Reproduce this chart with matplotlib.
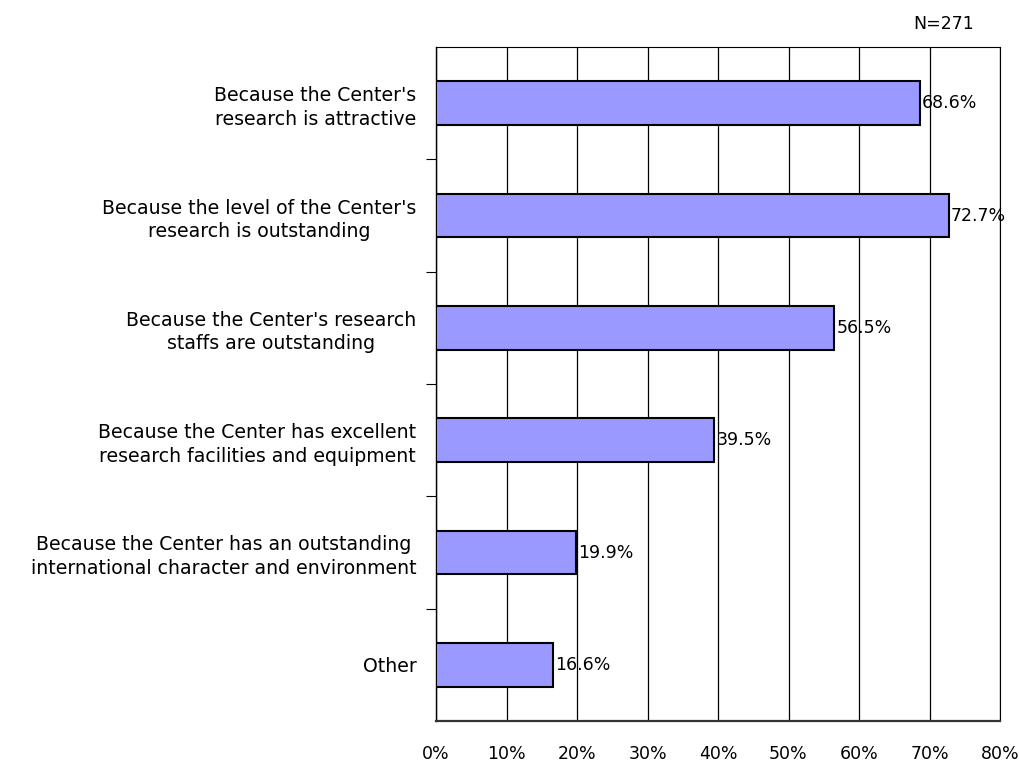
import matplotlib.pyplot as plt
from matplotlib.ticker import FixedLocator

plt.rcParams['font.family'] = ['DejaVu Sans']
num_font = ['DejaVu Sans Condensed', 'DejaVu Sans']

# data
categories = [
    "Because the Center's\nresearch is attractive",
    "Because the level of the Center's\nresearch is outstanding",
    "Because the Center's research\nstaffs are outstanding",
    "Because the Center has excellent\nresearch facilities and equipment",
    "Because the Center has an outstanding\ninternational character and environment",
    "Other",
]
values = [68.6, 72.7, 56.5, 39.5, 19.9, 16.6]
xticks = [0, 10, 20, 30, 40, 50, 60, 70, 80]

fig = plt.figure(figsize=(10.19, 7.66), dpi=100)
ax = fig.add_axes([436 / 1019, 1 - 721 / 766, (1000 - 436) / 1019, (721 - 47) / 766])

y = list(range(len(categories)))
ax.barh(y, values, height=0.39, color='#9999FF', edgecolor='black', linewidth=1.5, zorder=3)

for yi, v in zip(y, values):
    ax.text(v + 0.3, yi, f'{v:.1f}%', va='center', ha='left', fontsize=12.5,
            family=num_font, zorder=4)

ax.set_xlim(0, 80)
ax.set_ylim(len(categories) - 0.5, -0.5)
ax.set_xticks(xticks)
ax.set_xticklabels([f'{t}%' for t in xticks], fontsize=12.5, family=num_font)
ax.tick_params(axis='x', length=0, pad=17)
ax.grid(axis='x', color='black', linewidth=0.9, zorder=1)

ax.set_yticks(y)
ax.set_yticklabels(categories, fontsize=13.6, multialignment='center', linespacing=1.3)
ax.tick_params(axis='y', which='major', length=0, pad=14)
ax.yaxis.set_minor_locator(FixedLocator([i + 0.5 for i in range(len(categories) - 1)]))
ax.tick_params(axis='y', which='minor', length=7, width=0.8, direction='out')

for s in ['top', 'right']:
    ax.spines[s].set_linewidth(0.8)
ax.spines['left'].set_linewidth(1.0)
ax.spines['bottom'].set_linewidth(1.6)
ax.spines['bottom'].set_color('#333333')

fig.text(944 / 1019, 1 - 24 / 766, 'N=271', ha='center', va='center', fontsize=12.5,
         family=num_font)

fig.savefig('out.png', dpi=100)
